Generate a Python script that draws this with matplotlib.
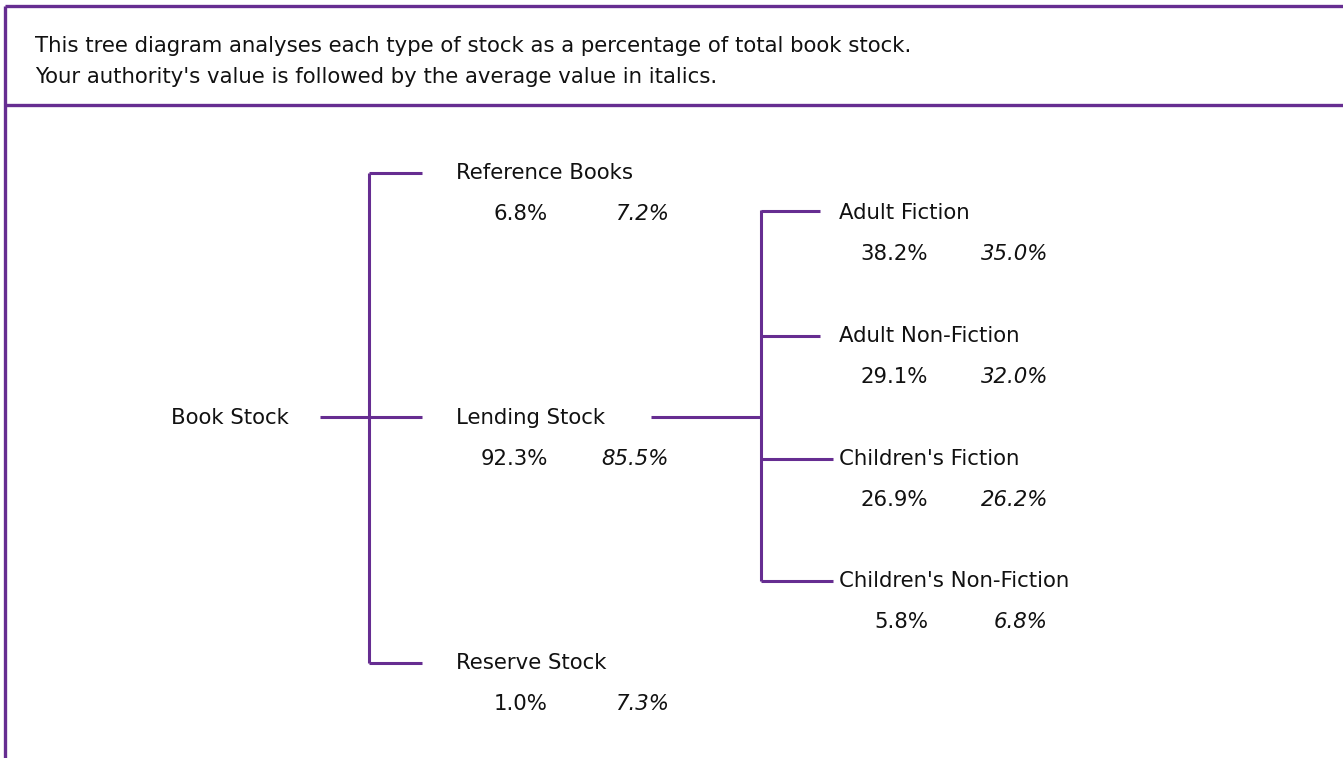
import matplotlib.pyplot as plt

# tree data: level 1 under "Book Stock", level 2 under "Lending Stock"
root_name = "Book Stock"
level1_names = ["Reference Books", "Lending Stock", "Reserve Stock"]
level1_values = [6.8, 92.3, 1.0]
level1_averages = [7.2, 85.5, 7.3]

level2_names = ["Adult Fiction", "Adult Non-Fiction", "Children's Fiction", "Children's Non-Fiction"]
level2_values = [38.2, 29.1, 26.9, 5.8]
level2_averages = [35.0, 32.0, 26.2, 6.8]

intro_lines = [
    "This tree diagram analyses each type of stock as a percentage of total book stock.",
    "Your authority's value is followed by the average value in italics.",
]

purple = "#662d91"
fs = 15.3

fig = plt.figure(figsize=(13.43, 7.58), dpi=100)
ax = fig.add_axes([0, 0, 1, 1])
ax.set_xlim(0, 1343)
ax.set_ylim(758, 0)
ax.axis("off")

# frame
ax.plot([5, 1343], [6, 6], color=purple, lw=2.4, solid_capstyle="butt")
ax.plot([5, 1343], [105, 105], color=purple, lw=2.4, solid_capstyle="butt")
ax.plot([5, 5], [6, 758], color=purple, lw=2.4, solid_capstyle="butt")

for i, line in enumerate(intro_lines):
    ax.text(35, 46 + i * 31, line, fontsize=fs, va="center", ha="left", color="#111111")


def seg(x0, x1, y0, y1):
    ax.plot([x0, x1], [y0, y1], color=purple, lw=2.2, solid_capstyle="butt")


def node(x, y, name, val, avg, xv, xa):
    ax.text(x, y, name, fontsize=fs, va="center", ha="left", color="#111111")
    ax.text(xv, y + 41, f"{val:.1f}%", fontsize=fs, va="center", ha="right", color="#111111")
    ax.text(xa, y + 41, f"{avg:.1f}%", fontsize=fs, va="center", ha="right",
            style="italic", color="#111111")


# level 1
ax.text(171, 418, root_name, fontsize=fs, va="center", ha="left", color="#111111")
y1 = [173, 418, 663]
seg(320, 422, 417, 417)
seg(369, 369, y1[0], y1[-1])
seg(369, 422, y1[0], y1[0])
seg(369, 422, y1[-1], y1[-1])
for y, n, v, a in zip(y1, level1_names, level1_values, level1_averages):
    node(456, y, n, v, a, 548, 669)

# level 2
y2 = [213, 336, 459, 581]
seg(651, 761, 417, 417)
seg(761, 761, 210, 581)
ends = [820, 820, 833, 833]
for y, e, n, v, a in zip(y2, ends, level2_names, level2_values, level2_averages):
    seg(761, e, y - 2 if y == 213 else y, y - 2 if y == 213 else y)
    node(839, y, n, v, a, 928, 1048)

fig.savefig("out.png", dpi=100)
